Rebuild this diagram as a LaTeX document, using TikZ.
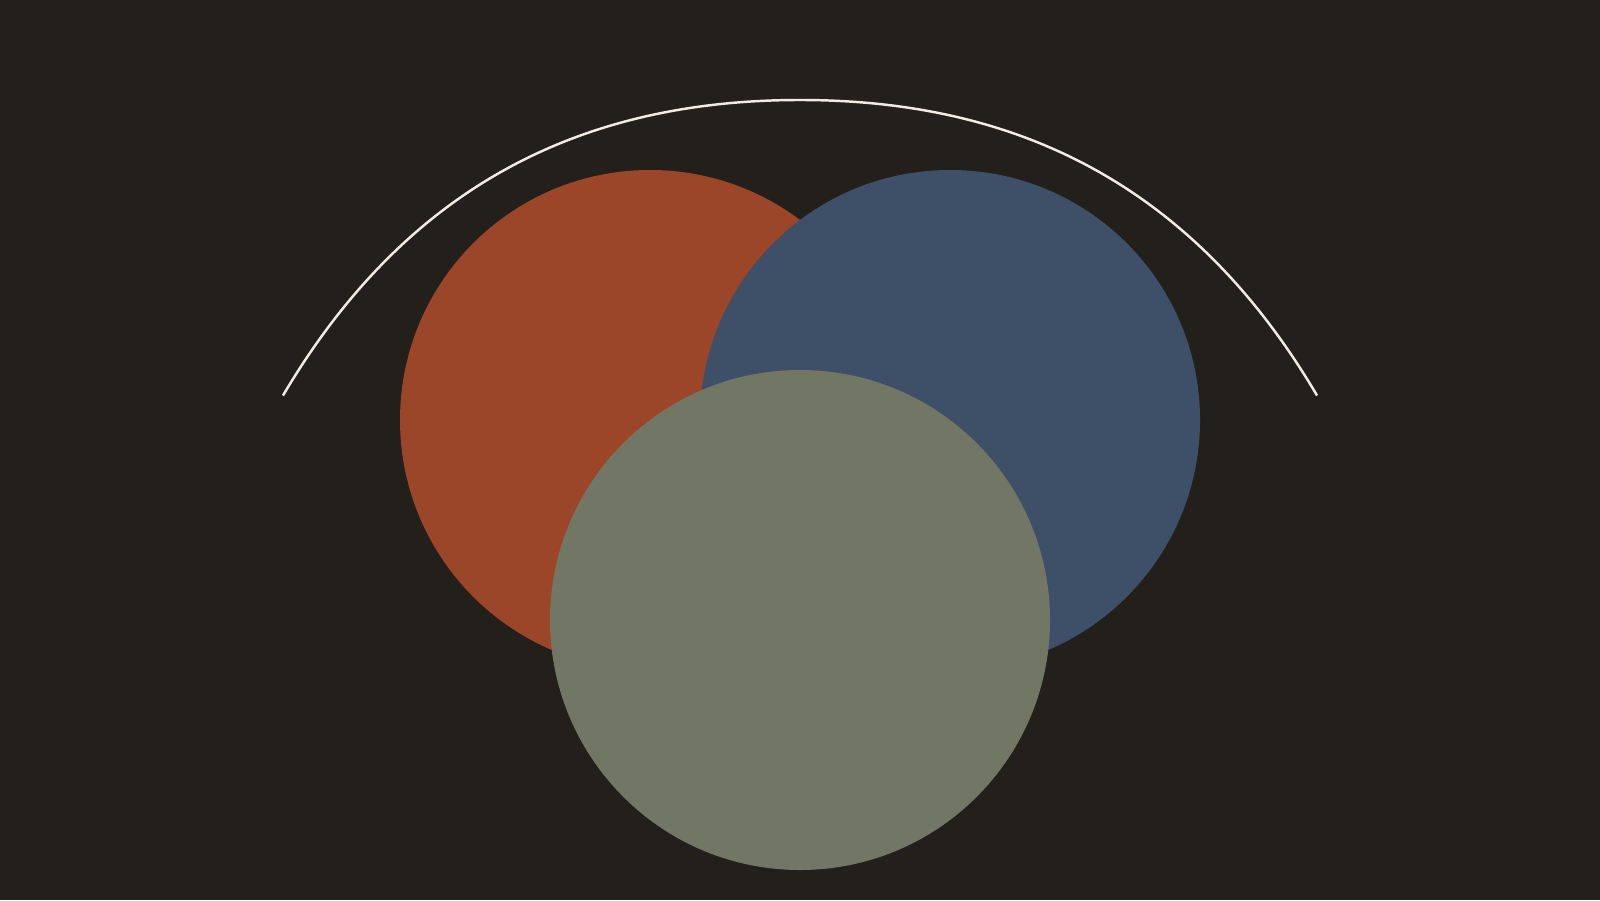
\documentclass[tikz,border=0pt]{standalone}
\definecolor{NightBg}{HTML}{23201C}
\definecolor{RustRed}{HTML}{9B4529}
\definecolor{SlateBlue}{HTML}{3D5068}
\definecolor{SageGray}{HTML}{727665}
\definecolor{ChalkWhite}{HTML}{F0ECE2}
\usepackage{tikz}
\usetikzlibrary{positioning,calc}

\begin{document}
\begin{tikzpicture}[
      blob/.style={circle, minimum size=5cm, inner sep=0pt, draw=none},
      arcline/.style={ChalkWhite, line width=0.7pt}]

      \fill[NightBg] (0,0) rectangle (16,9);
      \useasboundingbox (0,0) rectangle (16,9);

      \node[blob, fill=RustRed]   (rust)  at (6.5,4.8) {};
      \node[blob, fill=SlateBlue] (slate) at (9.5,4.8) {};
      \node[blob, fill=SageGray]  (sage)  at (8.0,2.8) {};

      \coordinate (leftend)  at (2.83,5.045);
      \coordinate (crest)    at (8.0,8.0);
      \coordinate (rightend) at (13.17,5.045);
      \draw[arcline] (leftend) .. controls (4.15,7.285) and (6.0,8.0) .. (crest)
                               .. controls (10.0,8.0) and (11.85,7.285) .. (rightend);
    \end{tikzpicture}
\end{document}
